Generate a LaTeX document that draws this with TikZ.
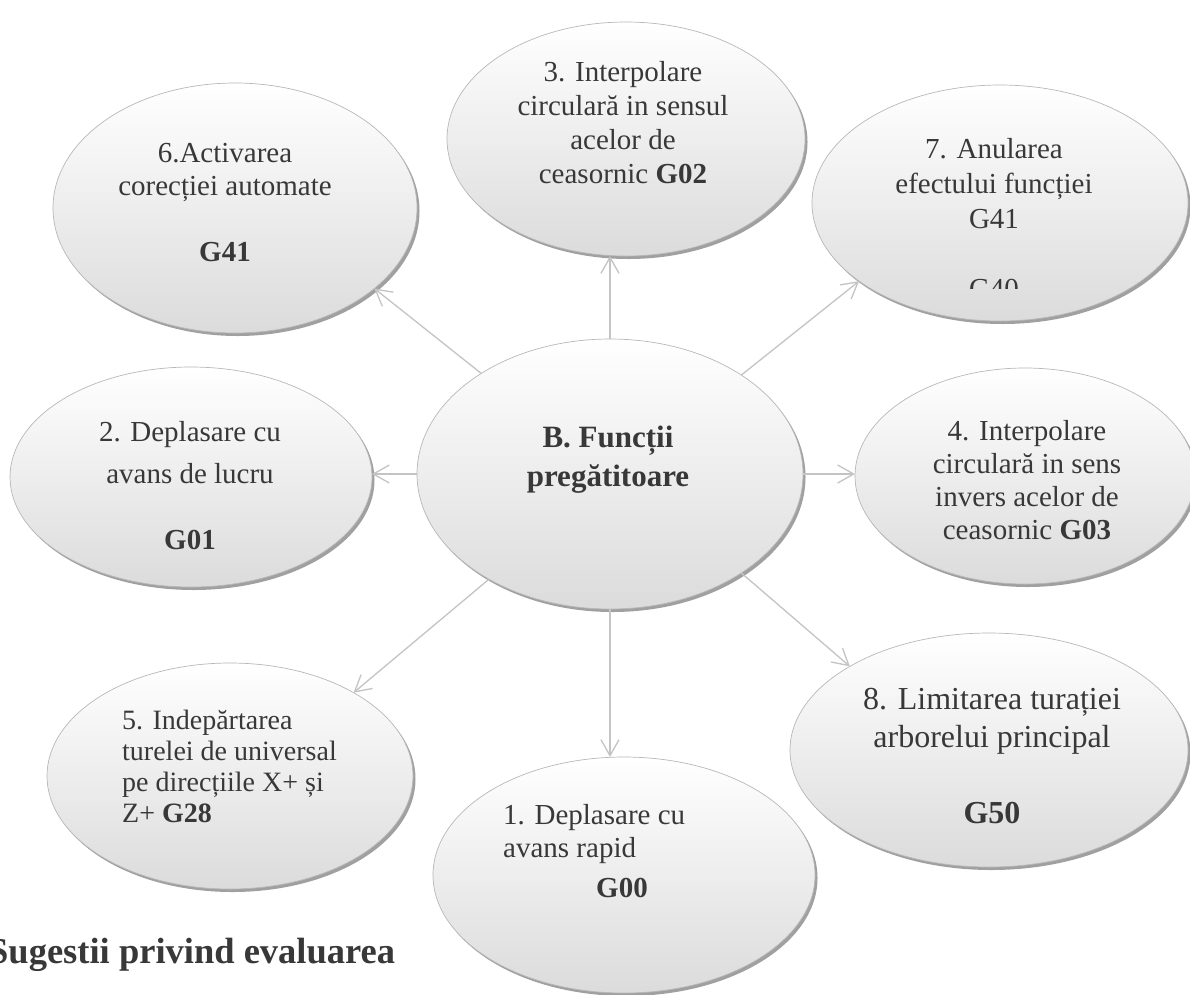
\documentclass[tikz,border=0pt]{standalone}
\usepackage{fontspec}
\setmainfont{Liberation Serif}
\usetikzlibrary{shapes.geometric,arrows.meta,shadows}
\definecolor{txtc}{HTML}{383838}
\definecolor{linec}{HTML}{C4C4C4}
\definecolor{rimc}{HTML}{B8B8B8}
\definecolor{shadc}{HTML}{A0A0A0}
\tikzset{
  bub/.style={ellipse, draw=rimc, line width=0.7pt, inner sep=0pt, outer sep=0pt,
    top color=white, middle color=black!5, bottom color=black!14,
    drop shadow={shadow xshift=2.5pt, shadow yshift=-3pt, fill=shadc, opacity=1}},
  txt/.style={text=txtc, align=center, inner sep=0pt, font=\fontsize{29}{34}\selectfont},
  conn/.style={draw=linec, line width=1.3pt, -{Straight Barb[length=16pt,width=18pt,line width=1.3pt]}}
}
\begin{document}
\begin{tikzpicture}[x=1pt,y=-1pt]
\useasboundingbox (0,0) rectangle (1190,994);
\clip (0,0) rectangle (1190,994);
\fill[white] (0,0) rectangle (1190,994);
% bubbles
\node[bub, minimum width=386pt, minimum height=270pt] (c)  at (610,474) {};
\node[bub, minimum width=358pt, minimum height=234pt] (e3) at (626,139) {};
\node[bub, minimum width=364pt, minimum height=250pt] (e6) at (235,208) {};
\node[bub, minimum width=376pt, minimum height=236pt] (e7) at (1000,203) {};
\node[bub, minimum width=362pt, minimum height=220pt] (e2) at (191,477) {};
\node[bub, minimum width=340pt, minimum height=216pt] (e4) at (1025,476) {};
\node[bub, minimum width=366pt, minimum height=226pt] (e5) at (230,776) {};
\node[bub, minimum width=382pt, minimum height=236pt] (e1) at (624,875) {};
\node[bub, minimum width=398pt, minimum height=234pt] (e8) at (989,750) {};
% connectors
\draw[conn] (c.north) -- (c.north |- e3.south);
\draw[conn] (c.south) -- (c.south |- e1.north);
\draw[conn] (c.west) -- (c.west -| e2.east);
\draw[conn] (c.east) -- (c.east -| e4.west);
\draw[conn] (c.142.8) -- (e6.330.9);
\draw[conn] (c.37.2) -- (e7.209.6);
\draw[conn] (c.221.2) -- (e5.34.4);
\draw[conn] (c.323.7) -- (e8.149.7);
% texts
\node[txt, font=\fontsize{31}{39}\selectfont\bfseries] (tc) at (608,460) {B. Funcții\\pregătitoare};
\node[txt] (t3) at (623,123) {3. Interpolare\\circulară in sensul\\acelor de\\ceasornic \textbf{G02}};
\node[txt, font=\fontsize{29}{33}\selectfont] (t6) at (225,203) {6.Activarea\\corecției automate\\[33pt]\textbf{G41}};
\begin{scope}
\clip (800,60) rectangle (1190,288);
\node[txt, font=\fontsize{29}{35}\selectfont] (t7) at (994,219) {7. Anularea\\efectului funcției\\G41\\[35pt]G40};
\end{scope}
\node[txt, font=\fontsize{29}{42}\selectfont] (t2) at (190,486) {2. Deplasare cu\\avans de lucru\\[24pt]\textbf{G01}};
\node[txt, font=\fontsize{29}{33}\selectfont] (t4) at (1027,480) {4. Interpolare\\circulară in sens\\invers acelor de\\ceasornic \textbf{G03}};
\node[txt, align=left, anchor=west, font=\fontsize{28}{31}\selectfont] (t5) at (122,766) {5. Indepărtarea\\turelei de universal\\pe direcțiile X+ și\\Z+ \textbf{G28}};
\node[txt, align=left, anchor=west, font=\fontsize{29}{33}\selectfont] (t1) at (503,851) {1. Deplasare cu\\avans rapid\\[7pt]\hspace*{93pt}\textbf{G00}};
\node[txt, font=\fontsize{32}{38}\selectfont] (t8) at (992,756) {8. Limitarea turației\\arborelui principal\\[38pt]\textbf{G50}};
\node[text=txtc, inner sep=0pt, anchor=base west, font=\fontsize{36.5}{40}\selectfont\bfseries] (title) at (-12,963) {Sugestii privind evaluarea};
\end{tikzpicture}
\end{document}
